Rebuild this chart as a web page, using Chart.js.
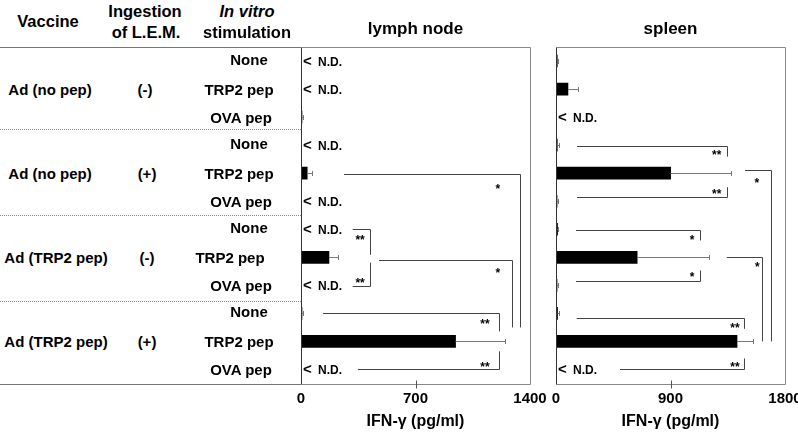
<!DOCTYPE html>
<html><head><meta charset="utf-8">
<script src="https://cdn.jsdelivr.net/npm/chart.js@4/dist/chart.umd.min.js"></script>
<style>
html,body{margin:0;padding:0;background:#fff;}
#wrap{position:relative;width:798px;height:432px;overflow:hidden;font-family:"Liberation Sans",Arial,Helvetica,sans-serif;font-weight:bold;color:#000;}
.t{position:absolute;white-space:nowrap;transform:translate(-50%,-50%);line-height:1;}
.ln{position:absolute;left:0;width:301px;height:0;}
canvas{position:absolute;top:0;}
</style></head><body>
<div id="wrap">
  <canvas id="lymph" width="260" height="432" style="left:290px"></canvas>
  <canvas id="spleen" width="253" height="432" style="left:545px"></canvas>
</div>
<script>
// ---------- data ----------
const vaccines = ['Ad (no pep)', 'Ad (no pep)', 'Ad (TRP2 pep)', 'Ad (TRP2 pep)'];
const ingestion = ['(-)', '(+)', '(-)', '(+)'];
const stimulations = ['None', 'TRP2 pep', 'OVA pep'];
const rowLabels = ['None','TRP2 pep','OVA pep','None','TRP2 pep','OVA pep','None','TRP2 pep','OVA pep','None','TRP2 pep','OVA pep'];

// IFN-gamma (pg/ml); null = N.D.
const lymphValues = [null, null, 6, null, 38, null, null, 171, null, 6, 945, null];
const lymphErrors = [0, 0, 4, 0, 27, 0, 0, 58, 0, 8, 302, 0];
const spleenValues = [10, 94, null, 10, 901, 8, 12, 638, 8, 12, 1423, null];
const spleenErrors = [6, 79, 0, 12, 472, 8, 4, 565, 8, 14, 125, 0];

const lymphTicks = [0, 700, 1400];
const spleenTicks = [0, 900, 1800];

// significance brackets: row (index), x1..x2 (pg/ml), end (row index where vertical stops), mark + its position
const lymphSig = [
  {row: 4.02, x1: 263, x2: 1339, end: 9.5, mark: '*', mx: 1204, my: 4.45},
  {row: 7.1, x1: 477, x2: 1288, end: 9.5, mark: '*', mx: 1204, my: 7.44},
  {row: 6.0, x1: 316, x2: 422, end: 6.91, mark: '**', mx: 361, my: 6.27},
  {row: 8.02, x1: 316, x2: 422, end: 7.19, mark: '**', mx: 361, my: 7.8},
  {row: 9.0, x1: 135, x2: 1212, end: 9.64, mark: '**', mx: 1125, my: 9.28},
  {row: 11.0, x1: 348, x2: 1212, end: 10.35, mark: '**', mx: 1125, my: 10.79}
];
const spleenSig = [
  {row: 3.03, x1: 165, x2: 1342, end: 3.41, mark: '**', mx: 1263, my: 3.26},
  {row: 4.85, x1: 165, x2: 1342, end: 4.5, mark: '**', mx: 1263, my: 4.63},
  {row: 3.9, x1: 1486, x2: 1688, end: 10.0, mark: '*', mx: 1578, my: 4.26},
  {row: 6.04, x1: 157, x2: 1132, end: 6.4, mark: '*', mx: 1069, my: 6.27},
  {row: 7.83, x1: 157, x2: 1132, end: 7.47, mark: '*', mx: 1069, my: 7.6},
  {row: 6.99, x1: 1342, x2: 1622, end: 10.0, mark: '*', mx: 1582, my: 7.23},
  {row: 9.16, x1: 163, x2: 1480, end: 9.55, mark: '**', mx: 1407, my: 9.4},
  {row: 10.98, x1: 503, x2: 1480, end: 10.61, mark: '**', mx: 1407, my: 10.79}
];

// ---------- left table (HTML text) ----------
const FONT = '"Liberation Sans", Arial, Helvetica, sans-serif';
const wrap = document.getElementById('wrap');
const TOP = 47, BOTTOM = 383.5, ROWH = (BOTTOM - TOP) / 12;
function addText(txt, x, y, size, italic) {
  const d = document.createElement('div');
  d.className = 't';
  d.textContent = txt;
  d.style.left = x + 'px'; d.style.top = y + 'px';
  d.style.fontSize = size + 'px';
  if (italic) d.style.fontStyle = 'italic';
  wrap.appendChild(d);
}
function addLine(y, style) {
  const d = document.createElement('div');
  d.className = 'ln';
  d.style.top = y + 'px';
  d.style.borderTop = style;
  wrap.appendChild(d);
}
addText('Vaccine', 48, 21, 16.5);
addText('Ingestion', 145, 11, 16.5);
addText('of L.E.M.', 146, 32, 16.5);
addText('In vitro', 247, 11, 16.5, true);
addText('stimulation', 247, 32, 16.5);
const stimX = {'None': 249, 'TRP2 pep': 239, 'OVA pep': 241};
const stimDy = {'None': -2, 'TRP2 pep': 0, 'OVA pep': 0};
rowLabels.forEach((s, i) => {
  let x = stimX[s];
  if (i === 7) x = 230;
  addText(s, x, TOP + ROWH * (i + 0.5) + stimDy[s], 15);
});
vaccines.forEach((v, g) => {
  const y = TOP + ROWH * (g * 3 + 1.5);
  addText(v, v.length > 11 ? 56 : 50, y, 15);
  addText(ingestion[g], g === 0 ? 145 : 147, y, 15);
});
addLine(46.5, '1px solid #777');
addLine(129, '1px dotted #888');
addLine(214.5, '1px dotted #888');
addLine(300.5, '1px dotted #888');
addLine(383.5, '1px solid #777');

// ---------- chart plugin ----------
const px = v => Math.round(v) + 0.5;
const panelPlugin = {
  id: 'panel',
  afterDatasetsDraw(chart, args, opts) {
    const {ctx, chartArea: a, scales: {x, y}} = chart;
    const ds = chart.data.datasets[0];
    ctx.save();
    // error bars
    ctx.strokeStyle = '#777'; ctx.lineWidth = 1;
    ds.data.forEach((v, i) => {
      const e = ds.errors[i];
      if (v == null || !e) return;
      const yc = px(y.getPixelForValue(i));
      const x0 = x.getPixelForValue(v), x1 = px(x.getPixelForValue(v + e));
      ctx.beginPath();
      ctx.moveTo(x0, yc); ctx.lineTo(x1, yc);
      ctx.moveTo(x1, yc - 2.5); ctx.lineTo(x1, yc + 2.5);
      ctx.stroke();
    });
    // N.D. labels
    ctx.fillStyle = '#000';
    ctx.textBaseline = 'alphabetic';
    ctx.textAlign = 'left';
    ds.data.forEach((v, i) => {
      if (v != null) return;
      const yc = y.getPixelForValue(i);
      ctx.font = 'bold 15px ' + FONT;
      ctx.fillText('<', a.left + 2, yc + 5);
      ctx.font = 'bold 12px ' + FONT;
      ctx.fillText('N.D.', a.left + 17, yc + 4.5);
    });
    // significance brackets
    ctx.strokeStyle = '#444';
    ctx.textAlign = 'center';
    ctx.font = 'bold 12px ' + FONT;
    (opts.sig || []).forEach(b => {
      const yh = px(y.getPixelForValue(b.row));
      const xa = x.getPixelForValue(b.x1), xb = px(x.getPixelForValue(b.x2));
      const ye = y.getPixelForValue(b.end);
      ctx.beginPath();
      ctx.moveTo(xa, yh); ctx.lineTo(xb, yh); ctx.lineTo(xb, ye);
      ctx.stroke();
      ctx.fillText(b.mark, x.getPixelForValue(b.mx), y.getPixelForValue(b.my) + 7);
    });
    ctx.restore();
  },
  afterDraw(chart) {
    const {ctx, chartArea: a, scales: {x}} = chart;
    ctx.save();
    ctx.lineWidth = 1;
    const l = px(a.left), r = px(a.right), t = px(a.top), b = px(a.bottom);
    ctx.strokeStyle = '#888';
    ctx.beginPath();
    ctx.moveTo(l, t); ctx.lineTo(r, t); ctx.lineTo(r, b); ctx.lineTo(l, b);
    ctx.stroke();
    ctx.strokeStyle = '#333';
    ctx.beginPath(); ctx.moveTo(l, t); ctx.lineTo(l, b); ctx.stroke();
    // middle tick marks crossing the axis
    ctx.strokeStyle = '#555';
    x.ticks.forEach((tk, i) => {
      if (i === 0 || i === x.ticks.length - 1) return;
      const xx = px(x.getPixelForValue(tk.value));
      ctx.beginPath(); ctx.moveTo(xx, b - 4); ctx.lineTo(xx, b + 4); ctx.stroke();
    });
    ctx.restore();
  }
};

function makePanel(id, title, values, errors, ticks, sig, padRight) {
  return new Chart(document.getElementById(id), {
    type: 'bar',
    data: {
      labels: rowLabels,
      datasets: [{data: values, errors: errors, backgroundColor: '#000', borderWidth: 0, barThickness: 12}]
    },
    options: {
      indexAxis: 'y',
      responsive: false,
      animation: false,
      devicePixelRatio: 1,
      layout: {padding: {left: 11, right: padRight, top: 0, bottom: 0}},
      plugins: {
        legend: {display: false},
        tooltip: {enabled: false},
        title: {display: true, text: title, color: '#000',
          font: {family: FONT, size: 17, weight: 'bold'}, padding: {top: 19.6, bottom: 7}},
        panel: {sig: sig}
      },
      scales: {
        x: {
          min: ticks[0], max: ticks[ticks.length - 1],
          afterBuildTicks(s) { s.ticks = ticks.map(v => ({value: v})); },
          ticks: {color: '#000', font: {family: FONT, size: 15, weight: 'bold'}, padding: 6, maxRotation: 0, autoSkip: false,
            callback: v => String(v)},
          grid: {display: false, drawTicks: false},
          border: {display: false},
          title: {display: true, text: 'IFN-γ (pg/ml)', color: '#000',
            font: {family: FONT, size: 16, weight: 'bold'}, padding: {top: 0, bottom: 1}},
          afterFit(s) { s.height = 48.5; s.paddingLeft = 0; s.paddingRight = 0; }
        },
        y: {display: false}
      }
    },
    plugins: [panelPlugin]
  });
}

makePanel('lymph', 'lymph node', lymphValues, lymphErrors, lymphTicks, lymphSig, 20);
makePanel('spleen', 'spleen', spleenValues, spleenErrors, spleenTicks, spleenSig, 13);
</script>
</body></html>
